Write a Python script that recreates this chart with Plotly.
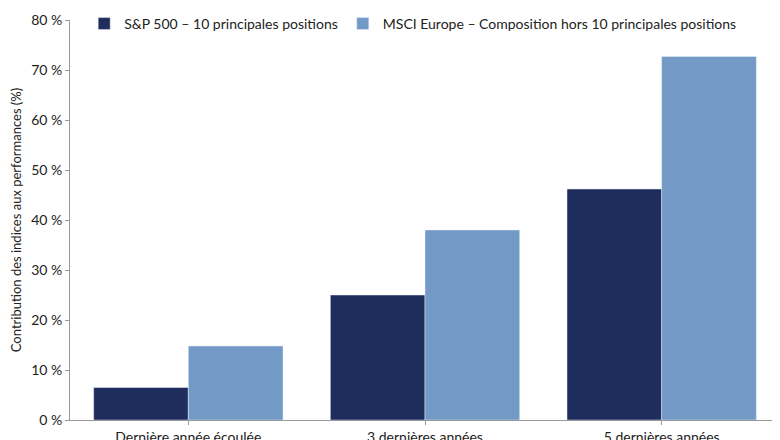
import plotly.graph_objects as go

categories = ["Dernière année écoulée", "3 dernières années", "5 dernières années"]
sp500_top10 = [6.5, 25.0, 46.2]
msci_europe_ex10 = [14.8, 38.0, 72.7]
tick_vals = [0, 10, 20, 30, 40, 50, 60, 70, 80]
tick_text = [f"{v} %" for v in tick_vals]

fig = go.Figure()
fig.add_bar(x=categories, y=sp500_top10, name="S&P 500 – 10 principales positions", marker_color="#1f2d5c")
fig.add_bar(x=categories, y=msci_europe_ex10, name="MSCI Europe – Composition hors 10 principales positions", marker_color="#7399c6")

fig.update_layout(
    width=780, height=440,
    barmode="group", bargap=0.2, bargroupgap=0,
    plot_bgcolor="white", paper_bgcolor="white",
    font=dict(family="Lato, sans-serif", size=14, color="#222"),
    margin=dict(l=62, r=8, t=12, b=28, autoexpand=False),
    legend=dict(orientation="h", x=0.02, y=1.03, xanchor="left", yanchor="top",
                font=dict(size=14), bgcolor="rgba(0,0,0,0)", itemwidth=30),
    showlegend=True,
)
fig.update_yaxes(range=[0, 80], tickvals=tick_vals, ticktext=tick_text, showgrid=False,
                 showline=True, linecolor="#999", ticks="outside", tickcolor="#999", ticklen=4,
                 title=dict(text="Contribution des indices aux performances (%)", font=dict(size=13), standoff=6))
fig.update_xaxes(showline=True, linecolor="#999", ticks="outside", tickcolor="#999", ticklen=4,
                 showgrid=False)

fig.write_html("out.html")
